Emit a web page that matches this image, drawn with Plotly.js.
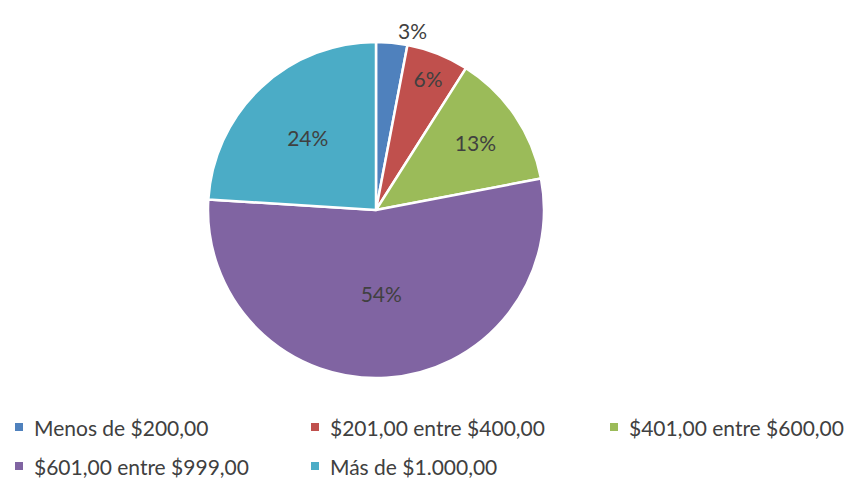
<!DOCTYPE html>
<html>
<head>
<meta charset="utf-8">
<script src="https://cdn.plot.ly/plotly-3.0.1.min.js"></script>
<style>html,body{margin:0;padding:0;background:#fff;}</style>
</head>
<body>
<div id="chart" style="width:854px;height:478px;"></div>
<script>
const categories = ["Menos de $200,00", "$201,00 entre $400,00", "$401,00 entre $600,00", "$601,00 entre $999,00", "Más de $1.000,00"];
const values = [3, 6, 13, 54, 24];
const colors = ["#4F81BD", "#C0504D", "#9BBB59", "#8064A2", "#4BACC6"];
const labelPositions = ["outside", "inside", "inside", "inside", "inside"];

const W = 854, H = 478;
const cx = 376, cy = 210, r = 168;
const FONT = "Lato, 'Open Sans', sans-serif";

const trace = {
  type: "pie",
  labels: categories,
  values: values,
  sort: false,
  direction: "clockwise",
  rotation: 0,
  marker: {colors: colors, line: {color: "#ffffff", width: 2.5}},
  textinfo: "percent",
  texttemplate: "%{percent:.0%}",
  textposition: labelPositions,
  insidetextorientation: "horizontal",
  textfont: {family: FONT, size: 21, color: "#404040"},
  outsidetextfont: {family: FONT, size: 21, color: "#404040"},
  insidetextfont: {family: FONT, size: 21, color: "#404040"},
  showlegend: false,
  hoverinfo: "label+percent",
  domain: {x: [(cx - r) / W, (cx + r) / W], y: [(H - cy - r) / H, (H - cy + r) / H]}
};

// custom legend layout (positions in pixels)
const legendCols = [15, 311, 610];
const legendRows = [427, 466];
const shapes = [];
const annotations = [];
categories.forEach((c, i) => {
  const col = i % 3, row = Math.floor(i / 3);
  const x0 = legendCols[col], yc = legendRows[row];
  shapes.push({type: "rect", xref: "paper", yref: "paper",
    x0: x0 / W, x1: (x0 + 8) / W, y0: 1 - (yc + 4) / H, y1: 1 - (yc - 4) / H,
    fillcolor: colors[i], line: {width: 0}});
  annotations.push({xref: "paper", yref: "paper", x: (x0 + 17) / W, y: 1 - yc / H,
    xanchor: "left", yanchor: "middle", text: c, showarrow: false,
    font: {family: FONT, size: 21, color: "#404040"}});
});

const layout = {
  width: W, height: H,
  margin: {l: 0, r: 0, t: 0, b: 0},
  paper_bgcolor: "#ffffff",
  plot_bgcolor: "#ffffff",
  showlegend: false,
  shapes: shapes,
  annotations: annotations
};

Plotly.newPlot("chart", [trace], layout, {displayModeBar: false, staticPlot: true});
</script>
</body>
</html>
